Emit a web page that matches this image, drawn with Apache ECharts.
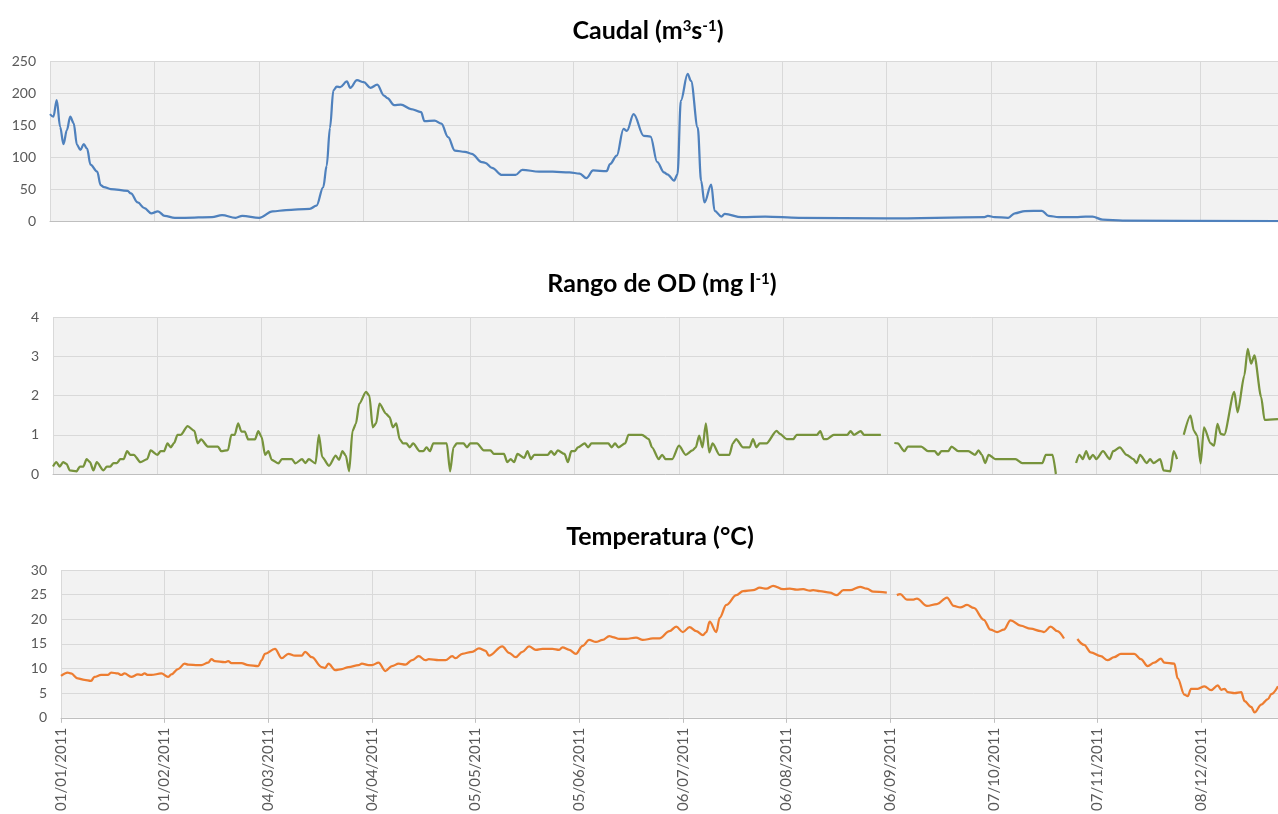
<!DOCTYPE html>
<html>
<head>
<meta charset="utf-8">
<script src="https://cdn.jsdelivr.net/npm/echarts@6/dist/echarts.min.js"></script>
<style>
  html, body { margin: 0; padding: 0; background: #ffffff; }
  #chart { width: 1278px; height: 814px; }
</style>
</head>
<body>
<div id="chart"></div>
<script>
// Day offsets are counted from 01/01/2011; a null value breaks the line (missing record).
const START_DATE = Date.UTC(2011, 0, 1);
const TICK_STEP_DAYS = 31;
const LAST_DAY = 364;

// Caudal (m3/s)
const caudalDays = [0,1,2,3,4,5,6,7,8,9,10,11,12,14,15,16,18,23,24,26,28,30,32,34,37,40,48,51,55,57,62,66,70,77,79,81,82,83,84,85,86,88,89,91,93,95,97,99,100,102,104,107,110,111,114,116,118,120,123,125,128,129,131,134,138,140,145,149,154,157,159,161,165,166,168,170,171,173,176,178,180,182,183,185,186,187,189,190,192,193,194,196,197,199,200,205,212,222,248,277,278,280,284,286,289,294,296,299,304,307,309,312,318,364];
const caudalValues = [167,163,189,147,120,142,163,153,119,111,120,113,88,77,56,53,50,47,43,29,20,12,15,8,5,5,6,9,5,8,5,15,17,19,24,53,86,146,204,210,209,218,208,220,217,208,213,196,192,181,182,175,170,156,157,152,131,110,108,105,92,91,83,72,72,80,77,77,76,74,67,79,78,89,102,144,141,167,133,132,92,76,73,63,73,188,230,219,146,63,29,57,16,7,11,6,7,5,4,6,8,6,5,12,15.6,16,8,6,6,7,7,2,0.5,0];

// Rango de OD (mg/l)
const odDays = [0,1,2,3,4,5,7,8,9,10,11,12,13,15,16,17,18,19,20,21,22,23,24,26,28,29,31,32,33,34,35,36,37,38,40,42,43,44,46,49,50,52,53,54,55,56,57,58,60,61,62,63,64,65,67,68,71,72,74,75,76,78,79,80,82,84,85,86,87,88,89,90,91,93,94,95,96,97,99,100,101,102,103,104,105,106,107,109,110,111,112,113,117,118,119,120,122,123,124,126,128,130,131,134,135,136,137,138,140,141,142,143,147,148,149,150,152,153,154,155,156,158,159,160,165,166,167,168,170,171,175,177,178,180,181,182,184,186,188,190,191,192,193,194,195,196,198,201,202,203,205,207,208,209,210,212,215,216,218,220,221,227,228,229,230,232,236,237,238,240,241,246,248,250,251,253,254,258,260,262,263,264,266,267,269,272,274,275,276,277,278,280,286,288,294,295,297,298,301,304,305,306,307,308,309,310,312,314,315,317,319,321,322,323,325,326,327,329,330,332,333,334,335,336,338,339,340,341,342,344,345,346,347,348,351,352,354,355,356,357,359,360,364];
const odValues = [0.19,0.3,0.19,0.3,0.26,0.09,0.07,0.19,0.19,0.38,0.3,0.09,0.3,0.09,0.19,0.19,0.28,0.28,0.38,0.38,0.58,0.49,0.49,0.3,0.38,0.6,0.49,0.58,0.58,0.78,0.68,0.79,1.0,1.0,1.22,1.1,0.78,0.88,0.7,0.7,0.58,0.61,1.0,1.0,1.29,1.08,1.08,0.88,0.88,1.09,0.94,0.49,0.58,0.36,0.27,0.38,0.38,0.27,0.38,0.28,0.38,0.27,1.0,0.43,0.21,0.47,0.36,0.58,0.47,0.07,1.1,1.28,1.79,2.09,2.0,1.19,1.29,1.79,1.53,1.45,1.19,1.29,0.89,0.78,0.78,0.68,0.78,0.58,0.58,0.68,0.58,0.78,0.78,0.07,0.68,0.78,0.78,0.68,0.78,0.78,0.6,0.6,0.51,0.51,0.3,0.38,0.3,0.51,0.41,0.58,0.38,0.49,0.49,0.58,0.49,0.6,0.51,0.3,0.58,0.58,0.68,0.78,0.68,0.78,0.78,0.68,0.78,0.68,0.78,1.0,1.0,0.89,0.68,0.38,0.49,0.38,0.38,0.72,0.49,0.6,0.68,0.98,0.68,1.29,0.55,0.78,0.49,0.49,0.78,0.89,0.68,0.68,0.89,0.68,0.78,0.78,1.1,1.02,0.89,0.89,1.0,1.0,1.09,0.89,0.89,1.0,1.0,1.09,1.0,1.09,1.0,1.0,null,0.79,0.78,0.58,0.7,0.7,0.58,0.58,0.49,0.58,0.58,0.7,0.58,0.58,0.49,0.6,0.49,0.28,0.49,0.38,0.38,0.28,0.28,0.49,0.49,0.0,null,0.28,0.49,0.38,0.58,0.38,0.49,0.38,0.58,0.38,0.58,0.68,0.49,0.38,0.28,0.49,0.28,0.38,0.28,0.38,0.09,0.07,0.58,0.38,null,1.0,1.49,1.1,0.98,0.27,1.19,0.78,0.72,1.28,1.02,1.0,2.09,1.57,2.51,3.19,2.81,3.02,1.96,1.38,1.4];

// Temperatura (°C)
const tempDays = [0,2,3,5,7,9,10,12,14,15,17,18,19,21,23,24,25,26,27,30,32,33,35,37,38,41,42,44,45,46,49,50,51,54,56,59,60,61,64,66,68,70,72,73,75,78,79,80,82,84,86,89,90,92,93,95,97,99,101,103,105,107,109,110,113,115,117,118,120,123,125,127,128,132,134,136,138,140,142,144,147,149,150,152,154,156,158,160,162,164,165,167,169,172,174,177,179,182,184,186,188,190,192,193,194,196,197,199,202,204,207,209,211,213,216,218,220,222,224,225,227,230,232,234,236,239,241,243,247,248,250,251,253,255,256,259,262,265,267,269,271,273,276,278,280,282,284,287,290,293,294,296,298,300,302,304,306,308,311,313,315,317,321,323,325,327,329,330,333,334,336,337,338,340,342,344,346,347,348,349,351,353,354,356,357,359,361,362,364];
const tempValues = [8.5,9.2,9.0,8.0,7.7,7.5,8.3,8.7,8.7,9.2,9.0,8.7,9.0,8.3,8.8,8.7,9.0,8.7,8.7,9.0,8.3,8.8,9.9,11.0,10.8,10.7,10.7,11.2,11.9,11.5,11.3,11.5,11.1,11.1,10.7,10.5,11.7,13.0,14.0,12.1,13.0,12.6,12.6,13.4,12.3,10.3,10.1,11.0,9.7,9.9,10.3,10.7,11.0,10.7,10.7,11.2,9.5,10.5,11.0,10.8,11.7,12.5,11.7,11.9,11.7,11.7,12.5,12.1,13.0,13.4,14.1,13.6,12.6,14.5,13.2,12.3,13.4,14.5,13.8,14.0,14.0,13.8,14.3,13.8,13.0,14.6,15.8,15.4,15.8,16.6,16.4,16.0,16.0,16.3,15.8,16.1,16.1,17.6,18.5,17.4,18.4,17.6,16.8,17.4,19.5,17.4,20.3,22.9,24.9,25.7,25.9,26.4,26.2,26.8,26.1,26.2,26.0,26.1,25.8,25.9,25.7,25.4,24.9,25.9,25.9,26.6,26.2,25.6,25.4,null,24.9,25.1,24.0,24.0,24.2,22.7,23.1,24.4,22.7,22.4,22.9,22.3,19.9,17.9,17.4,17.9,19.8,18.7,18.1,17.6,17.4,18.5,17.6,16.1,null,16.0,14.8,13.3,12.5,11.7,12.3,13.0,13.0,11.9,10.5,11.2,12.0,11.2,11.0,8.0,4.7,4.4,5.9,5.9,6.4,5.6,6.6,5.7,5.9,5.2,5.0,5.2,3.4,2.2,1.1,2.7,3.8,4.8,6.4];

const FONT = 'Lato, "Open Sans", sans-serif';
const LABEL_COLOR = '#595959';
const GRID_COLOR = '#d9d9d9';

function pairs(days, values) {
  return days.map(function (d, i) { return [d, values[i]]; });
}

function dateLabel(day) {
  const t = new Date(START_DATE + day * 86400000);
  const dd = String(t.getUTCDate()).padStart(2, '0');
  const mm = String(t.getUTCMonth() + 1).padStart(2, '0');
  return dd + '/' + mm + '/' + t.getUTCFullYear();
}

const panels = [
  { grid: { left: 50, top: 61, width: 1232, height: 160 }, yMax: 250, yStep: 50,
    data: pairs(caudalDays, caudalValues), color: '#4f81bd', smooth: 0.35, dates: false },
  { grid: { left: 53, top: 317, width: 1233, height: 157 }, yMax: 4, yStep: 1,
    data: pairs(odDays, odValues), color: '#77933c', smooth: 0.25, dates: false },
  { grid: { left: 61, top: 570, width: 1226, height: 151 }, yMax: 30, yStep: 5,
    data: pairs(tempDays, tempValues), color: '#ed7d31', smooth: 0.35, dates: true }
];

const titleRich = {
  a: { fontFamily: FONT, fontSize: 25, fontWeight: 'bold', color: '#000000' },
  s: { fontFamily: FONT, fontSize: 15, fontWeight: 'bold', color: '#000000', verticalAlign: 'top' }
};

const titles = [
  { x: 648, y: 31, text: '{a|Caudal (m}{s|3}{a|s}{s|-1}{a|)}' },
  { x: 662, y: 284, text: '{a|Rango de OD (mg l}{s|-1}{a|)}' },
  { x: 660, y: 537, text: '{a|Temperatura (°C)}' }
];

const option = {
  animation: false,
  backgroundColor: '#ffffff',
  textStyle: { fontFamily: FONT },
  grid: panels.map(function (p) {
    return Object.assign({ show: true, backgroundColor: '#f2f2f2', borderWidth: 0 }, p.grid);
  }),
  xAxis: panels.map(function (p, i) {
    return {
      type: 'value', gridIndex: i, min: 0, max: LAST_DAY, interval: TICK_STEP_DAYS,
      axisLine: { show: true, lineStyle: { color: '#bfbfbf', width: 1 } },
      axisTick: { show: p.dates, length: 5, lineStyle: { color: '#bfbfbf' } },
      splitLine: { show: true, lineStyle: { color: GRID_COLOR, width: 1 } },
      axisLabel: {
        show: p.dates, rotate: 90, margin: 10, color: LABEL_COLOR, fontSize: 15,
        fontFamily: FONT, showMaxLabel: false, formatter: dateLabel
      }
    };
  }),
  yAxis: panels.map(function (p, i) {
    return {
      type: 'value', gridIndex: i, min: 0, max: p.yMax, interval: p.yStep,
      axisLine: { show: false }, axisTick: { show: false },
      splitLine: { show: true, lineStyle: { color: GRID_COLOR, width: 1 } },
      axisLabel: { color: LABEL_COLOR, fontSize: 14, fontFamily: FONT, margin: 14 }
    };
  }),
  series: panels.map(function (p, i) {
    return {
      type: 'line', xAxisIndex: i, yAxisIndex: i, data: p.data,
      showSymbol: false, smooth: p.smooth, smoothMonotone: 'x', connectNulls: false,
      lineStyle: { color: p.color, width: 2.25 }, itemStyle: { color: p.color },
      clip: true
    };
  }),
  graphic: titles.map(function (t) {
    return {
      type: 'text', x: t.x, y: t.y,
      style: { text: t.text, align: 'center', verticalAlign: 'middle', rich: titleRich }
    };
  })
};

const chart = echarts.init(document.getElementById('chart'), null, { renderer: 'canvas' });
chart.setOption(option);
</script>
</body>
</html>
